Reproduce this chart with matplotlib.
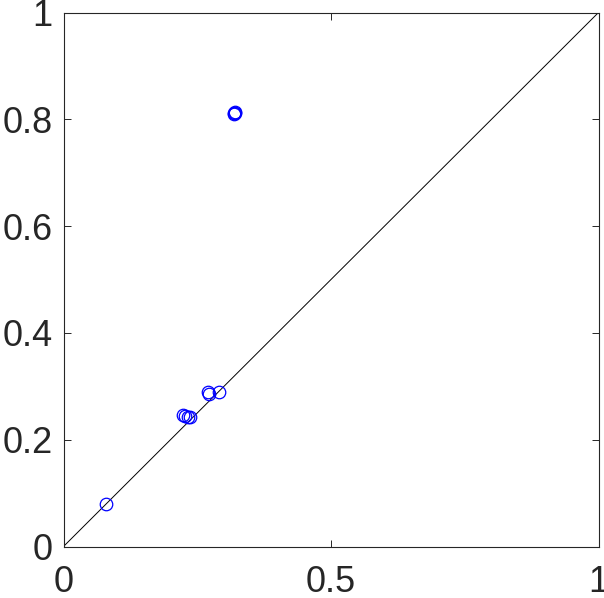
import matplotlib
matplotlib.use("Agg")
import matplotlib.pyplot as plt

x_vals = [0.079, 0.224, 0.228, 0.233, 0.237, 0.271, 0.272, 0.290, 0.318, 0.320, 0.319, 0.321]
y_vals = [0.080, 0.247, 0.245, 0.243, 0.242, 0.289, 0.285, 0.289, 0.811, 0.814, 0.809, 0.812]
x_ticks = [0, 0.5, 1]
x_labels = ["0", "0.5", "1"]
y_ticks = [0, 0.2, 0.4, 0.6, 0.8, 1]
y_labels = ["0", "0.2", "0.4", "0.6", "0.8", "1"]

plt.rcParams['font.family'] = ['Liberation Sans', 'DejaVu Sans']
fig = plt.figure(figsize=(6.04, 5.98), dpi=100)
ax = fig.add_axes([63.5/604, 1 - 546.5/598, 535/604, 534/598])
ax.plot([0, 1], [0, 1], color='black', lw=0.7)
ax.plot(x_vals, y_vals, linestyle='none', marker='o', markersize=9,
        markerfacecolor='none', markeredgecolor='#0000ff', markeredgewidth=0.9)
ax.set_xlim(0, 1)
ax.set_ylim(0, 1)
ax.set_xticks(x_ticks)
ax.set_xticklabels(x_labels)
ax.set_yticks(y_ticks)
ax.set_yticklabels(y_labels)
ax.tick_params(direction='in', length=5, width=0.7, color='#262626',
               labelcolor='#262626', labelsize=26, top=True, right=True, pad=8)
ax.tick_params(axis='x', pad=13)
for s in ax.spines.values():
    s.set_linewidth(0.8)
    s.set_color('#262626')
fig.savefig("out.png", dpi=100)
